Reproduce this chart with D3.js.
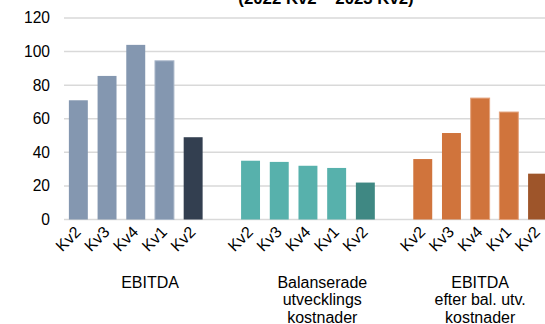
<!DOCTYPE html>
<html>
<head>
<meta charset="utf-8">
<script src="https://cdn.jsdelivr.net/npm/d3@7"></script>
<style>
  body { margin: 0; background: #fff; }
  svg { display: block; font-family: "Liberation Sans", Arial, sans-serif; }
</style>
</head>
<body>
<div id="chart"></div>
<script>
// chart values
var quarters = ["Kv2", "Kv3", "Kv4", "Kv1", "Kv2"];
var groupNames = [
  ["EBITDA"],
  ["Balanserade", "utvecklings", "kostnader"],
  ["EBITDA", "efter bal. utv.", "kostnader"]
];
var ebitda = [71, 85.5, 104, 94.5, 49];
var balUtv = [35, 34.3, 32, 30.7, 22];
var ebitdaEfter = [36, 51.5, 72.3, 64, 27.3];
var yTicks = [0, 20, 40, 60, 80, 100, 120];
var titleText = "(2022 Kv2 \u2013 2023 Kv2)";

var seriesList = [ebitda, balUtv, ebitdaEfter];
var colors = [
  { light: "#8497b0", dark: "#333f50", edge: "#a9b7c9" },
  { light: "#57b1ac", dark: "#3f8883", edge: "#8cccc7" },
  { light: "#d0743c", dark: "#9e552a", edge: "#e3a27c" }
];
// bars drawn with a lighter outline in the picture
var outlined = ["0-3", "2-2", "2-3"];

var width = 545, height = 324;
var margin = {top: 18, left: 64, bottom: 104.5};

var svg = d3.select("#chart")
  .append("svg")
  .attr("width", width)
  .attr("height", height);

// 5 bars per group, one empty slot after each group
var slots = d3.range(18 - 1);
var x = d3.scaleBand()
  .domain(slots)
  .range([margin.left, margin.left + 28.7 * slots.length])
  .paddingInner(0.34)
  .paddingOuter(0.17);

var y = d3.scaleLinear()
  .domain([0, 120])
  .range([height - margin.bottom, margin.top]);

var bars = [];
seriesList.forEach(function(vals, g) {
  vals.forEach(function(v, i) {
    bars.push({g: g, i: i, slot: g * 6 + i, value: v, q: quarters[i]});
  });
});

// gridlines
svg.append("g")
  .selectAll("line")
  .data(yTicks)
  .enter().append("line")
  .attr("x1", margin.left)
  .attr("x2", width)
  .attr("y1", function(d) { return y(d); })
  .attr("y2", function(d) { return y(d); })
  .attr("stroke", "#d9d9d9")
  .attr("stroke-width", 1.5);

// y axis labels
svg.append("g")
  .selectAll("text")
  .data(yTicks)
  .enter().append("text")
  .attr("x", 50)
  .attr("y", function(d) { return y(d); })
  .attr("dy", "0.35em")
  .attr("text-anchor", "end")
  .attr("font-size", 15.6)
  .attr("fill", "#000")
  .text(function(d) { return d; });

// bars
svg.append("g")
  .selectAll("rect")
  .data(bars)
  .enter().append("rect")
  .attr("x", function(d) { return x(d.slot); })
  .attr("width", x.bandwidth())
  .attr("y", function(d) { return y(d.value); })
  .attr("height", function(d) { return y(0) - y(d.value); })
  .attr("fill", function(d) { return d.i == 4 ? colors[d.g].dark : colors[d.g].light; })
  .attr("stroke", function(d) {
    return outlined.indexOf(d.g + "-" + d.i) > -1 ? colors[d.g].edge : "none";
  })
  .attr("stroke-width", 1);

// quarter labels, rotated
svg.append("g")
  .selectAll("text")
  .data(bars)
  .enter().append("text")
  .attr("transform", function(d) {
    return "translate(" + (x(d.slot) + x.bandwidth() / 2 + 3.5) + "," + (y(0) + 13.5) + ") rotate(-45)";
  })
  .attr("text-anchor", "end")
  .attr("font-size", 16)
  .attr("fill", "#000")
  .text(function(d) { return d.q; });

// group labels
var groupPos = [3, 9, 14.5];
var gl = svg.append("g")
  .selectAll("text")
  .data(groupNames)
  .enter().append("text")
  .attr("x", function(d, g) { return margin.left + 28.7 * groupPos[g]; })
  .attr("y", 287.5)
  .attr("text-anchor", "middle")
  .attr("font-size", 16)
  .attr("fill", "#000");

gl.selectAll("tspan")
  .data(function(d) { return d; })
  .enter().append("tspan")
  .attr("x", function() { return d3.select(this.parentNode).attr("x"); })
  .attr("dy", function(d, i) { return i == 0 ? 0 : 17.8; })
  .text(function(d) { return d; });

// title (only its lower edge is visible)
svg.append("text")
  .attr("x", 326)
  .attr("y", 3.5)
  .attr("text-anchor", "middle")
  .attr("font-size", 16.8)
  .attr("font-weight", "bold")
  .attr("fill", "#000")
  .text(titleText);
</script>
</body>
</html>
